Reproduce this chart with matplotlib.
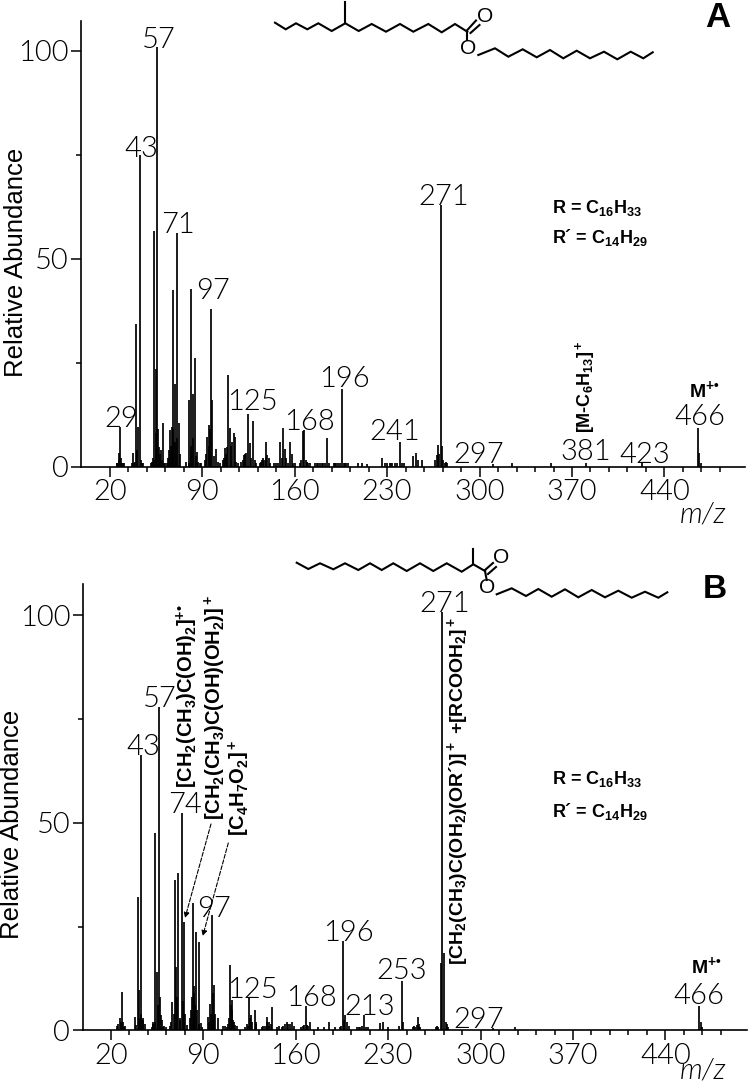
#set up modules
import matplotlib
matplotlib.use('Agg')
import matplotlib.pyplot as plt

plt.rcParams['mathtext.fontset'] = 'custom'
plt.rcParams['mathtext.rm'] = 'Liberation Sans:bold'
plt.rcParams['mathtext.it'] = 'Liberation Sans:italic:bold'
plt.rcParams['mathtext.bf'] = 'Liberation Sans:bold'
plt.rcParams['mathtext.default'] = 'bf'

W, H = 749, 1083

#peak lists (m/z, relative abundance)
mz_a = [25, 26.6, 27.6, 29.1, 30.6, 37.2, 39.7, 41, 42.7, 44, 50.8, 52.3, 53.3, 54.6, 55.9, 57.1, 58.6, 60.2,
        64.2, 65.5, 66.7, 68, 69.2, 70.8, 72, 77.3, 80.1, 81.4, 82.6, 84.1, 85.7, 92, 93.2, 94.7, 96.3, 97.5, 100.3,
        107.1, 108.4, 109.6, 110.9, 112.4, 113.7, 114.9, 120.5, 121.8, 123, 124.5, 125.8, 128.3, 129.6,
        133.6, 136.2, 137.9, 139.2, 140.7, 148.5, 151, 152.3, 156.6, 157.9, 163.9, 166, 167.2, 168.5, 170.3,
        176.6, 180.4, 184.6, 190.5, 193, 195.5, 198, 208, 210.7, 214.4, 226.3, 232.1, 235.9, 239.7, 241.4,
        249.3, 251.8, 253.6, 256.1, 267.5, 268.7, 270.5, 272, 273.8, 310.4, 324.9, 353.8, 380.6, 422.8,
        465.2, 466.2, 467.5]
ab_a = [1, 3.2, 9.6, 1, 0.8, 3.2, 34.4, 9.6, 75, 1, 1, 2, 56.6, 23.6, 101, 4.8, 4, 10.6,
        2, 8.8, 9.6, 42.4, 19.8, 56.1, 10.4, 1.2, 16, 42.8, 17.4, 26.2, 3.6, 1.5, 7.2, 10, 37.8, 16, 4.2,
        4.4, 4.8, 22, 9.4, 6, 8, 7.2, 1.5, 2.8, 3.4, 12.6, 5.8, 11, 1.6,
        1, 2, 5.9, 2.8, 2, 5.9, 9.4, 4.2, 5.9, 3, 1, 8.6, 8.8, 1.6, 1,
        1, 1, 6.8, 1, 1, 18.6, 1, 0.8, 0.8, 0.7, 2, 1, 1, 6, 1,
        2.6, 3.4, 1.5, 1.6, 2.8, 5.2, 63, 1.6, 1, 0.7, 0.8, 0.8, 0.8, 1, 9.2, 3.4, 0.8]

#low level background under the peak clusters
mz_low_a = [25.5, 26, 27, 28, 28.5, 30, 36.5, 38, 38.7, 40.5, 43.5, 45, 51.5, 53, 55, 56.5, 58, 59.5, 61, 62,
            63.5, 65, 66, 67.5, 69, 71, 73, 79.5, 81, 83, 85, 87, 88, 89, 93, 95, 96, 99, 101.5, 103,
            105.5, 106.5, 108, 111.5, 115.5, 117, 119.5, 122.5, 127, 130.5, 134.5, 135.5, 137, 138.5, 141.5,
            144, 145.5, 147, 150, 153.5, 155, 158.5, 160, 165, 169.5, 171.5, 175, 177.5, 179, 181.5, 183,
            186, 189.5, 191.5, 194, 197, 199, 200, 228.5, 230, 233, 234, 237.5, 243, 266.5, 269.5, 271.5, 274.5, 275.5]
ab_low_a = [1, 1, 1.5, 2, 1, 1, 1, 1, 1.2, 4, 1.5, 1, 1.2, 1.5, 8, 9, 3, 1.5, 1, 0.8,
            1, 4, 5, 9, 6, 7, 3, 1, 5, 7, 2.5, 1.2, 1, 0.8, 3, 5, 9, 2.5, 1.2, 1,
            1.5, 2, 3, 5, 1.2, 1, 1.2, 3, 2, 1, 1.2, 1.5, 1.5, 2, 1, 0.8, 1, 1, 2, 2, 1, 1, 1,
            1.5, 1.2, 1, 1, 0.8, 0.8, 0.8, 0.8, 0.8, 1, 1, 1, 1, 1, 0.8, 1, 1, 1, 1, 1, 1, 1.5, 3, 5, 1.2, 0.8]

mz_b = [24.8, 26.8, 28.3, 29.8, 37.9, 40.2, 41.5, 43, 44.5, 50.8, 52.1, 53.6, 54.8, 56.4, 57.9, 59.6,
        64.7, 66.5, 68.2, 69.5, 71, 72.5, 73.8, 75, 77.8, 80.4, 81.9, 83.1, 84.6, 86.4, 87.9,
        93.7, 95.3, 96.8, 97.8, 100.8, 107.6, 108.9, 110.2, 111.4, 112.7, 114.2,
        121.5, 122.8, 124.8, 126.1, 128.8, 130.1, 134.1, 137.9, 139.4, 141, 142.2,
        149.3, 153.1, 154.3, 157.1, 165.7, 167.7, 169, 170.5, 177.1, 181.4, 185.2, 189.7,
        193.5, 195.8, 197, 198.5, 208.6, 211.9, 214.4, 223.8, 226.3, 230, 240.2, 241.4,
        250.3, 252.3, 254.1, 268, 269.8, 271, 272, 273.5, 309.6, 326.1, 465.5, 466.8, 468]
ab_b = [1, 2.9, 9.3, 0.9, 3.1, 32, 9.7, 66.3, 2.5, 0.8, 2, 47.5, 14.1, 78, 3.7, 0.8,
        1, 6.7, 36.2, 15.3, 37.8, 2.5, 52.3, 26, 1.3, 5, 30.6, 10.7, 23.8, 21.3, 1.7,
        3.3, 6.3, 27.7, 11, 2.9, 0.9, 1.6, 15.7, 7.3, 2.5, 1.3,
        0.8, 1.6, 7.7, 3.7, 5, 2, 0.8, 3.3, 2, 1.6, 5.5,
        0.8, 2, 1.6, 2, 1, 5.9, 1, 2, 0.7, 0.7, 2, 0.7,
        0.8, 21.5, 3.7, 2, 0.8, 3.7, 0.8, 1.7, 2, 0.7, 11.9, 2,
        0.8, 3.3, 0.8, 0.8, 16.1, 100.7, 18.6, 2, 0.5, 0.7, 5.9, 2, 0.7]

mz_low_b = [25.5, 27.5, 29, 30.5, 39, 42, 42.5, 44, 45.5, 51.5, 53, 55.5, 57, 58.5, 60.5, 62,
            65.5, 67.5, 70, 72, 74.5, 76, 79.5, 81, 82.5, 84, 85.5, 87, 89, 94.5, 96, 97.2, 99, 105, 106.5,
            109.5, 111, 112, 113.5, 115.5, 123.5, 125.5, 127, 129.5, 135.5, 136.5, 138.5, 140,
            146, 147.5, 150.5, 152, 155.5, 159, 164, 166.5, 168.5, 194.5, 196.5, 200, 206, 207.5, 210, 213,
            238.5, 248.5, 249.5, 251.5, 253, 266.5, 267, 274.5, 275.5]
ab_low_b = [1.5, 2, 2, 1, 1.2, 3, 4, 3, 1.5, 1.5, 2, 6, 8, 2.5, 1, 0.8,
            2, 4, 8, 3, 7, 4, 3, 8, 9, 6, 5, 1.5, 0.8, 2, 4, 9, 4, 1, 1,
            3, 6, 5, 2, 1, 1, 3, 2, 1.5, 1, 1, 2, 1, 0.8, 1, 1, 1.5, 1.5, 1, 0.8, 1.2, 1.2,
            1, 2.5, 1, 0.8, 0.8, 1, 0.8, 1, 0.9, 1, 1.2, 1.5, 0.9, 1, 1.5, 0.8]

#peak labels: text, m/z position, abundance at the bottom of the text
labels_a = ['29', '43', '57', '71', '97', '125', '168', '196', '241', '271', '297', '381', '423', '466']
label_mz_a = [28.9, 44, 57.3, 71.3, 98.3, 127.8, 171, 197.5, 236, 273, 299, 380.6, 424.8, 466.5]
label_ab_a = [9.6, 74.5, 100.7, 56.1, 40.3, 13.6, 8.8, 19.1, 6.4, 62.9, 0.8, 1.6, 0.8, 10]

labels_b = ['43', '57', '74', '97', '125', '168', '196', '213', '253', '271', '297', '466']
label_mz_b = [44.5, 57.1, 76, 98, 127, 171.5, 199.8, 216, 240, 273, 298.8, 465.5]
label_ab_b = [66.3, 78, 52.4, 27.4, 7.7, 5.9, 21.6, 3.7, 12.3, 100.9, 0.5, 6.3]

light = dict(family='Lato', weight=300)
bold = dict(family='Liberation Sans', weight='bold', color='k')

#draw one spectrum, axes box given in pixels of the figure
def plot_spectrum(fig, left, right, base, top, x20, x_scale, y_scale, mz, ab, mz_low, ab_low, labels, label_mz, label_ab):
    ax = fig.add_axes([left/W, 1-base/H, (right-left)/W, (base-top)/H])
    ax.set_xlim(20-(x20-left)/x_scale, 20+(right-x20)/x_scale)
    ax.set_ylim(0, (base-top)/y_scale)
    ax.vlines(mz, 0, ab, color='k', lw=1.25)
    ax.vlines(mz_low, 0, ab_low, color='k', lw=1.25)
    for s in ['top', 'right']:
        ax.spines[s].set_visible(False)
    for s in ['left', 'bottom']:
        ax.spines[s].set_linewidth(1.2)
    ax.set_xticks(range(20, 441, 70))
    ax.set_xticks(range(20, 490, 14), minor=True)
    ax.set_yticks([0, 50, 100])
    ax.set_yticks([25, 75], minor=True)
    ax.tick_params(axis='both', which='major', length=7.2, width=1.1, labelsize=21, pad=2)
    ax.tick_params(axis='both', which='minor', length=3.6, width=1.1)
    for t in ax.get_xticklabels() + ax.get_yticklabels():
        t.set_fontfamily('Lato')
        t.set_fontweight(300)
    for s, x, y in zip(labels, label_mz, label_ab):
        ax.text(x, y, s, ha='center', va='baseline', fontsize=21, clip_on=False, zorder=5, **light)
    return ax

#molecule sketch drawn on the pixel overlay
def draw_chain(ov, x, y):
    ov.plot(x, y, color='k', lw=1.5, solid_joinstyle='miter')

fig = plt.figure(figsize=(W/100, H/100), dpi=100)

plot_spectrum(fig, 81.3, 745, 466.7, 21, 110, 1.32, 4.16, mz_a, ab_a, mz_low_a, ab_low_a, labels_a, label_mz_a, label_ab_a)
plot_spectrum(fig, 83, 746.7, 1030.3, 584, 111, 1.32, 4.15, mz_b, ab_b, mz_low_b, ab_low_b, labels_b, label_mz_b, label_ab_b)

ov = fig.add_axes([0, 0, 1, 1])
ov.set_xlim(0, W)
ov.set_ylim(H, 0)
ov.axis('off')
ov.patch.set_alpha(0)

#molecule A
draw_chain(ov, [275, 285.7, 296, 307.3, 318.3, 331.7, 345.3, 358.7, 371.7, 386, 400, 413.3, 428.3, 441.7, 455, 467.3],
           [22.7, 29.3, 23.3, 29.3, 23.3, 31, 23.3, 31, 24, 31.7, 24, 31.7, 24, 32.3, 24, 31.7])
draw_chain(ov, [345.3, 345.3], [23.3, 1.7])
draw_chain(ov, [467.3, 476], [30, 20.5])
draw_chain(ov, [470.5, 479.5], [33, 25])
draw_chain(ov, [467.3, 467.3], [31.7, 40])
draw_chain(ov, [478.3, 495, 508.3, 522.7, 536.7, 550, 563.3, 576.7, 590, 604, 617.3, 630.7, 643.3, 652.7],
           [55, 48.3, 56.7, 49.3, 57.3, 50, 58.3, 50.7, 58.3, 51.7, 59.3, 51.7, 58.3, 52.3])
ov.text(485, 16.5, 'O', ha='center', va='center', fontsize=15, family='Liberation Sans')
ov.text(468, 48, 'O', ha='center', va='center', fontsize=15, family='Liberation Sans')

#molecule B
draw_chain(ov, [296.7, 308.3, 320, 333.3, 345, 358.3, 370, 381.7, 393.3, 406.7, 420, 433.3, 446.7, 461.7, 473.3, 485],
           [562.7, 569, 563.3, 569.3, 563.3, 570, 563.3, 570, 563.3, 571, 563.3, 571, 563.3, 571.7, 564.3, 571])
draw_chain(ov, [473.3, 473.3], [564.3, 549])
draw_chain(ov, [485, 493], [570, 563])
draw_chain(ov, [488, 496], [574, 567])
draw_chain(ov, [485, 486.7], [571, 580])
draw_chain(ov, [496.7, 511.7, 526, 538.3, 551.7, 565, 578.3, 591.7, 605, 618.3, 631.7, 645, 658.3, 667.3],
           [594.3, 588.3, 596, 589, 596.7, 589.3, 597.3, 590, 597.3, 590.7, 597.7, 591.7, 597.7, 592.3])
ov.text(501, 557.5, 'O', ha='center', va='center', fontsize=15, family='Liberation Sans')
ov.text(486.7, 587.5, 'O', ha='center', va='center', fontsize=15, family='Liberation Sans')

#axis titles
ov.text(16, 262, 'Relative Abundance', rotation=90, ha='center', va='center', fontsize=18.5, family='Liberation Sans')
ov.text(12, 824, 'Relative Abundance', rotation=90, ha='center', va='center', fontsize=18.5, family='Liberation Sans')
ov.text(703, 515, 'm/z', ha='center', va='center', fontsize=21, style='italic', **light)
ov.text(703, 1071, 'm/z', ha='center', va='center', fontsize=21, style='italic', **light)

#panel letters
ov.text(717.5, 27, 'A', ha='center', va='baseline', fontsize=25, **bold)
ov.text(715, 598, 'B', ha='center', va='baseline', fontsize=24, **bold)

#formula notes
r_txt = 'R = C$_{16}$H$_{33}$'
r2_txt = 'R\u00b4 = C$_{14}$H$_{29}$'
ov.text(552, 208, r_txt, ha='left', va='center', fontsize=13, **bold)
ov.text(552, 238, r2_txt, ha='left', va='center', fontsize=13, **bold)
ov.text(552, 779, r_txt, ha='left', va='center', fontsize=13, **bold)
ov.text(552, 811, r2_txt, ha='left', va='center', fontsize=13, **bold)

#ion labels
ov.text(585, 433, '[M-C$_6$H$_{13}$]$^+$', rotation=90, ha='center', va='bottom', fontsize=13, **bold)
ov.text(704, 397, 'M$^{+\u2022}$', ha='center', va='baseline', fontsize=14, **bold)
ov.text(706, 973, 'M$^{+\u2022}$', ha='center', va='baseline', fontsize=14, **bold)
ov.text(187, 788, '[CH$_2$(CH$_3$)C(OH)$_2$]$^{+\u2022}$', rotation=90, ha='center', va='bottom', fontsize=14.5, **bold)
ov.text(215, 820, '[CH$_2$(CH$_3$)C(OH)(OH$_2$)]$^+$', rotation=90, ha='center', va='bottom', fontsize=14.5, **bold)
ov.text(239, 836, '[C$_4$H$_7$O$_2$]$^+$', rotation=90, ha='center', va='bottom', fontsize=14.5, **bold)
ov.text(458, 965, '[CH$_2$(CH$_3$)C(OH$_2$)(OR\u00b4)]$^+$ +[RCOOH$_2$]$^+$',
        rotation=90, ha='center', va='bottom', fontsize=14, **bold)

#dashed arrows
ov.annotate('', xy=(185, 918), xytext=(211, 824),
            arrowprops=dict(arrowstyle='-|>', linestyle='--', lw=0.8, color='k', shrinkA=0, shrinkB=0, mutation_scale=8))
ov.annotate('', xy=(202.7, 936), xytext=(228.3, 843),
            arrowprops=dict(arrowstyle='-|>', linestyle='--', lw=0.8, color='k', shrinkA=0, shrinkB=0, mutation_scale=8))

plt.savefig('out.png', dpi=100)
